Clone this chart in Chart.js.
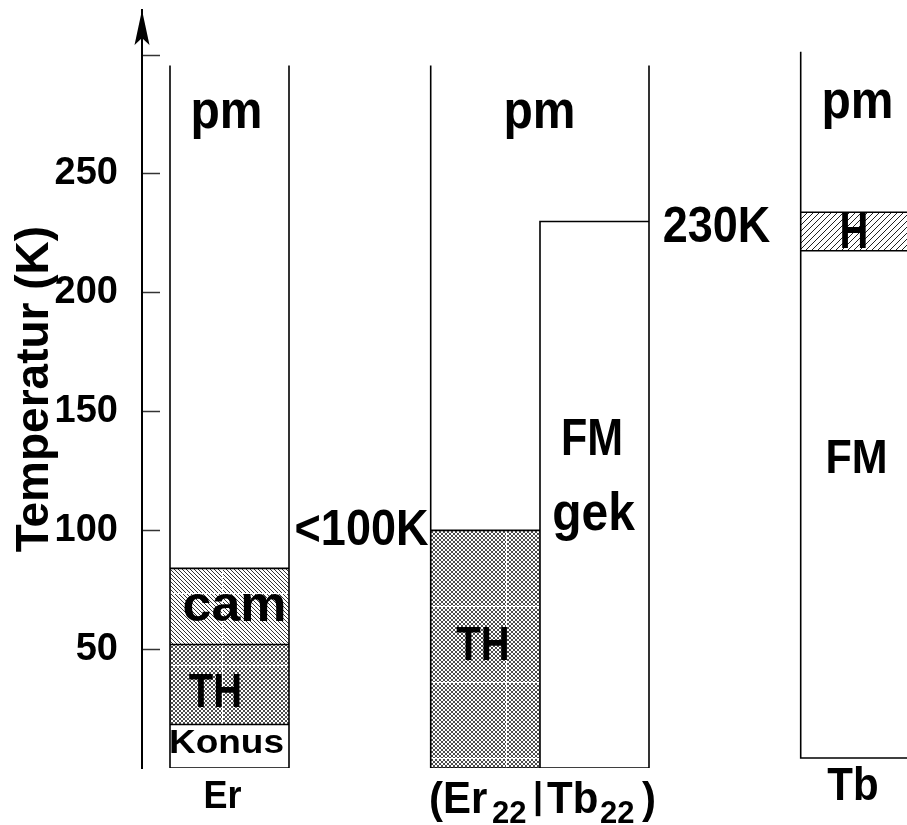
<!DOCTYPE html>
<html><head><meta charset="utf-8">
<script src="https://cdn.jsdelivr.net/npm/chart.js@4/dist/chart.umd.min.js"></script>
<style>html,body{margin:0;padding:0;background:#fff;overflow:hidden}canvas{display:block}</style>
</head><body>
<canvas id="c" width="907" height="825"></canvas>
<script>
// ---------------- data ----------------
const categories = ['Er', '(Er22|Tb22)', 'Tb'];
const compositeParts = [['(Er', 'n'], ['22', 's'], ['|', 'b'], ['Tb', 'n'], ['22', 's'], [')', 'n']];
const yTickMarks = [50, 100, 150, 200, 250, 300];
const yTickLabels = [50, 100, 150, 200, 250];
const erPhases = ['Konus', 'TH', 'cam', 'pm'];
const erBounds = [0, 18.3, 52, 84, 295.6];
const mixPhasesEr = ['TH', 'pm'];
const mixBoundsEr = [0, 100, 295.6];
const mixPhasesTb = ['FM', 'gek'];
const mixBoundsTb = [0, 230, 295.6];
const tbPhases = ['FM', 'H', 'pm'];
const tbBounds = [4.2, 217.7, 233.9, 301.4];
const axisTop = 319;
const arrowValue = 311.4;

// ---------------- layout (x in axis units) ----------------
const L = { er: [28, 147], mix: [288.7, 398, 507], tb: [658.7, 765] };
const FONT = "'Liberation Sans', Arial, sans-serif";

// ---------------- patterns ----------------
function hatch(dirs, period, lw, color, tile, seam, ox, oy) {
  const c = document.createElement('canvas');
  c.width = c.height = tile;
  const g = c.getContext('2d');
  g.fillStyle = '#fff'; g.fillRect(0, 0, tile, tile);
  g.strokeStyle = color; g.lineWidth = lw;
  g.beginPath();
  for (let k = -2 * tile; k <= 3 * tile; k += period) {
    if (dirs.includes('\\')) { g.moveTo(k, 0); g.lineTo(k + tile, tile); }
    if (dirs.includes('/')) { g.moveTo(k, 0); g.lineTo(k - tile, tile); }
  }
  g.stroke();
  if (seam) { g.fillStyle = '#fff'; g.fillRect(0, 0, tile, 1); g.fillRect(0, 0, 1, tile); }
  const p = document.createElement('canvas').getContext('2d').createPattern(c, 'repeat');
  if (p.setTransform) p.setTransform(new DOMMatrix([1, 0, 0, 1, ox || 0, oy || 0]));
  return p;
}
const patErCam = hatch('\\', 4, 0.85, '#111', 72, true, 222, 593);
const patErTH = hatch('\\/', 4, 0.75, '#111', 72, true, 222, 593);
const patMixTH = hatch('\\/', 4, 0.75, '#111', 76, true, 506, 606);
const patTbH = hatch('/', 6, 1.0, '#222', 72, false, 0, 0);

// ---------------- arrow head ----------------
const arrow = document.createElement('canvas');
arrow.width = 16; arrow.height = 36;
(function () {
  const a = arrow.getContext('2d');
  a.fillStyle = '#000';
  a.beginPath(); a.moveTo(8, 0); a.lineTo(15.5, 35); a.lineTo(8, 28); a.lineTo(0.5, 35); a.closePath(); a.fill();
})();

// ---------------- datasets ----------------
const datasets = [];
function fillBox(x0, x1, y0, y1, pat) {
  datasets.push({ type: 'line', data: [{ x: x0, y: y1 }, { x: x1, y: y1 }], fill: { value: y0 },
    backgroundColor: pat, borderColor: 'rgba(0,0,0,0)', borderWidth: 0, pointRadius: 0, order: 3 });
}
function seg(pts) {
  datasets.push({ type: 'line', data: pts.map(([x, y]) => ({ x, y })), fill: false, borderColor: '#000',
    borderWidth: 1.6, borderJoinStyle: 'miter', pointRadius: 0, order: 2 });
}
// Er column
fillBox(L.er[0], L.er[1], erBounds[1], erBounds[2], patErTH);
fillBox(L.er[0], L.er[1], erBounds[2], erBounds[3], patErCam);
seg([[L.er[0], erBounds[4]], [L.er[0], erBounds[0]], [L.er[1], erBounds[0]], [L.er[1], erBounds[4]]]);
for (let i = 1; i <= 3; i++) seg([[L.er[0], erBounds[i]], [L.er[1], erBounds[i]]]);
// (Er22|Tb22)
fillBox(L.mix[0], L.mix[1], mixBoundsEr[0], mixBoundsEr[1], patMixTH);
seg([[L.mix[0], mixBoundsEr[2]], [L.mix[0], 0], [L.mix[2], 0], [L.mix[2], mixBoundsTb[2]]]);
seg([[L.mix[0], mixBoundsEr[1]], [L.mix[1], mixBoundsEr[1]]]);
seg([[L.mix[1], mixBoundsTb[0]], [L.mix[1], mixBoundsTb[1]], [L.mix[2], mixBoundsTb[1]]]);
// Tb
fillBox(L.tb[0], L.tb[1], tbBounds[1], tbBounds[2], patTbH);
seg([[L.tb[0], tbBounds[3]], [L.tb[0], tbBounds[0]], [L.tb[1], tbBounds[0]]]);
seg([[L.tb[0], tbBounds[1]], [L.tb[1], tbBounds[1]]]);
seg([[L.tb[0], tbBounds[2]], [L.tb[1], tbBounds[2]]]);
// axis arrow
datasets.push({ type: 'line', data: [{ x: 0, y: arrowValue }], showLine: false, pointStyle: arrow,
  pointRadius: 8, clip: false, order: 0 });

// ---------------- texts ----------------
const texts = [
  { text: erPhases[3], x: 84.5, y: 269.3, size: 48, sy: 1.1 },
  { text: mixPhasesEr[1], x: 397.5, y: 269.3, size: 48, sy: 1.1 },
  { text: tbPhases[2], x: 715.5, y: 273.5, size: 48, sy: 1.1 },
  { text: erPhases[2], x: 92.5, y: 61.9, size: 52, sy: 0.97 },
  { text: erPhases[1], x: 73.5, y: 25.7, size: 40, sy: 1.2 },
  { text: erPhases[0], x: 84.5, y: 6.3, size: 37, sy: 0.92 },
  { text: '<' + mixBoundsEr[1] + 'K', x: 219.5, y: 93.8, size: 45, sy: 1.09 },
  { text: mixPhasesEr[0], x: 341, y: 45.4, size: 40, sy: 1.2 },
  { text: mixPhasesTb[0], x: 450, y: 131.7, size: 43, sy: 1.2 },
  { text: mixPhasesTb[1], x: 451.5, y: 100.2, size: 48, sy: 1.1 },
  { text: mixBoundsTb[1] + 'K', x: 574.5, y: 221.4, size: 45, sy: 1.12 },
  { text: tbPhases[1], x: 712, y: 218.8, size: 40, sy: 1.25 },
  { text: tbPhases[0], x: 714.5, y: 124.1, size: 43, sy: 1.12 },
  { text: categories[0], x: 80.5, y: -16.8, size: 36, sy: 1.08 },
  { text: categories[2], x: 711, y: -13.5, size: 42, sy: 1.12 }
];
const compositePos = [287, 350, 391, 405, 458, 500];

const textPlugin = {
  id: 'phaseText',
  afterDraw(chart) {
    const { ctx, scales: { x, y } } = chart;
    ctx.save();
    ctx.fillStyle = '#000';
    ctx.textBaseline = 'alphabetic';
    function put(t, align) {
      ctx.font = 'bold ' + t.size + 'px ' + FONT;
      ctx.textAlign = align;
      ctx.save();
      ctx.translate(x.getPixelForValue(t.x), y.getPixelForValue(t.y));
      ctx.scale(1, t.sy || 1);
      ctx.fillText(t.text, 0, 0);
      ctx.restore();
    }
    texts.forEach(t => put(t, 'center'));
    compositeParts.forEach(([s, k], i) => {
      const spec = k === 's' ? { size: 31, y: -23.1, sy: 1.0 } : k === 'b' ? { size: 36, y: -16.8, sy: 1.0 } : { size: 42, y: -18.9, sy: 1.06 };
      put({ text: s, x: compositePos[i], y: spec.y, size: spec.size, sy: spec.sy }, 'left');
    });
    ctx.restore();
  }
};

new Chart(document.getElementById('c'), {
  type: 'line',
  data: { datasets },
  options: {
    responsive: false,
    devicePixelRatio: 1,
    animation: false,
    layout: { autoPadding: false, padding: { top: 10, bottom: 57, left: 0, right: 0 } },
    plugins: { legend: { display: false }, tooltip: { enabled: false } },
    scales: {
      x: { type: 'linear', min: 0, max: 765, display: false },
      y: {
        type: 'linear', min: 0, max: axisTop,
        afterFit: s => { s.width = 142; s.paddingTop = 0; s.paddingBottom = 0; },
        afterBuildTicks: s => { s.ticks = yTickMarks.map(v => ({ value: v })); },
        grid: { display: true, drawOnChartArea: false, drawTicks: true, tickLength: -18, tickColor: '#333', tickWidth: 1.5 },
        border: { display: true, color: '#000', width: 2 },
        ticks: {
          padding: 42, color: '#000',
          font: { family: FONT, weight: 'bold', size: 38 },
          callback: v => (yTickLabels.includes(v) ? String(v) : '')
        },
        title: {
          display: true, text: 'Temperatur (K)', color: '#000',
          font: { family: FONT, weight: 'bold', size: 46 },
          padding: { top: 8, bottom: 0 }
        }
      }
    }
  },
  plugins: [textPlugin]
});
</script>
</body></html>
